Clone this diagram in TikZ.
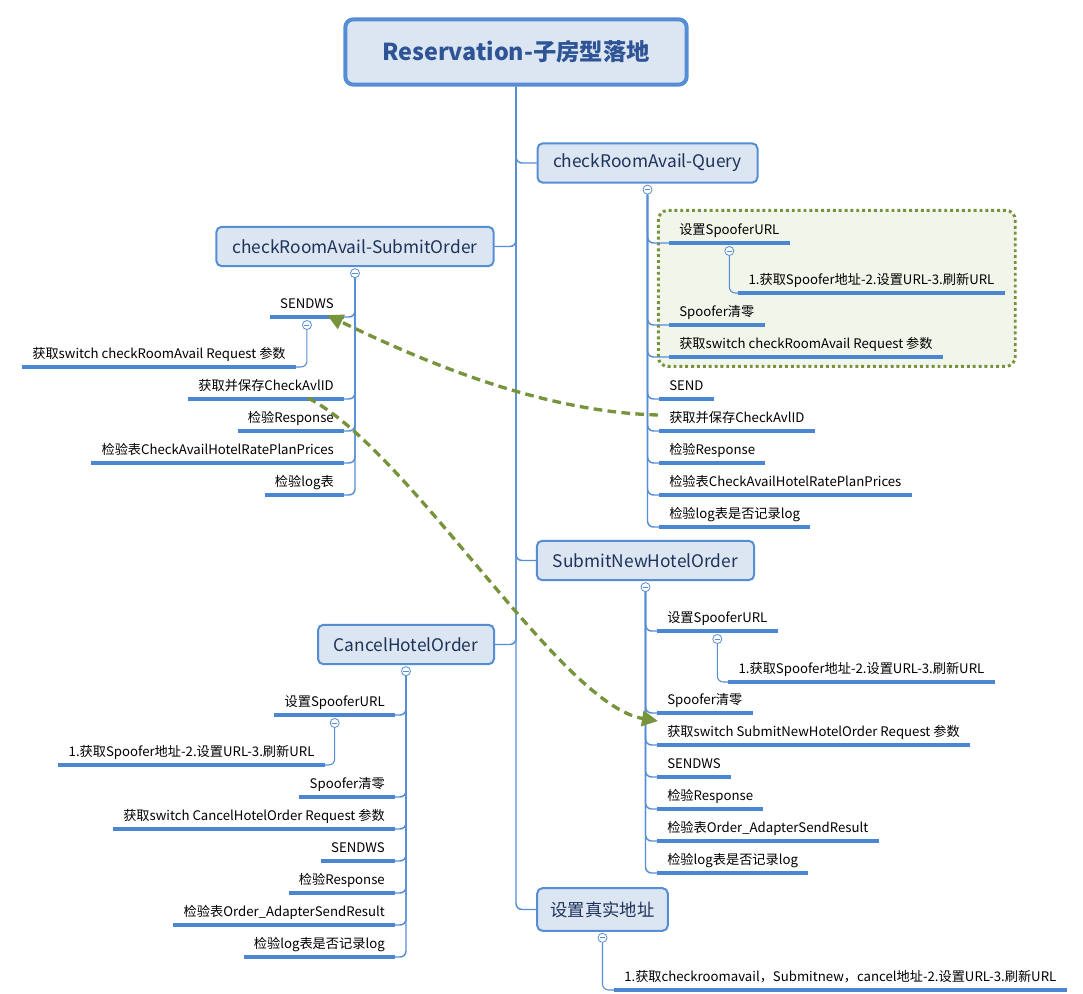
\documentclass[tikz,border=0pt]{standalone}
\usepackage{fontspec}
\setmainfont{Noto Sans CJK SC}
\usetikzlibrary{arrows.meta,calc,fit,backgrounds}
\definecolor{lblue}{RGB}{85,142,213}
\definecolor{ulblue}{RGB}{74,134,210}
\definecolor{boxfill}{RGB}{220,230,242}
\definecolor{boxtext}{RGB}{30,50,90}
\definecolor{titletext}{RGB}{47,84,150}
\definecolor{olive}{RGB}{119,147,60}
\definecolor{olivefill}{RGB}{242,245,234}
\begin{document}
\begin{tikzpicture}[x=0.75pt,y=-0.75pt,
  rootbox/.style={draw=lblue, line width=3pt, fill=boxfill, rounded corners=6pt, minimum width=256pt, minimum height=49pt, font=\fontsize{17.5}{20}\selectfont\bfseries, text=titletext},
  mainbox/.style={draw=lblue, line width=1.5pt, fill=boxfill, rounded corners=4pt, minimum height=29.5pt, inner xsep=8pt, font=\fontsize{13}{15}\selectfont, text=boxtext},
  uline/.style={draw=ulblue, line width=2.4pt},
  leaf/.style={inner xsep=7.5pt, inner ysep=4pt, text height=7pt, text depth=2pt, font=\fontsize{9.9}{11}\selectfont, text=black},
  conn/.style={draw=lblue, line width=1.1pt, rounded corners=4.5pt},
  subconn/.style={draw=lblue, line width=0.8pt, rounded corners=4.5pt},
  toggle/.style={circle, draw=lblue, line width=0.6pt, fill=white, minimum size=6.8pt, inner sep=0pt,
     path picture={\draw[lblue, line width=0.6pt] ([xshift=-1.9pt]path picture bounding box.center) -- ([xshift=1.9pt]path picture bounding box.center);}},
  rel/.style={draw=olive, line width=2.5pt, dash pattern=on 6.5pt off 4pt, -{Triangle[length=12pt,width=11.5pt]}}
]
\begin{scope}[on background layer]
\fill[white] (0,0) rectangle (1083,994);
\end{scope}
\useasboundingbox (0,0) rectangle (1083,994);

% root and branch boxes
\node[rootbox] (root) at (516,52) {Reservation-子房型落地};
\node[mainbox, minimum width=165pt] (bq) at (647.5,163) {checkRoomAvail-Query};
\node[mainbox, minimum width=208pt] (bs) at (355,246.5) {checkRoomAvail-SubmitOrder};
\node[mainbox, minimum width=163pt] (bn) at (645.5,560.5) {SubmitNewHotelOrder};
\node[mainbox, minimum width=132pt] (bc) at (406,644.5) {CancelHotelOrder};
\node[mainbox, minimum width=98pt, minimum height=32pt] (br) at (602.5,909.5) {设置真实地址};

\draw[conn] (root.south) |- (bq.west);
\draw[conn] (root.south) |- (bs.east);
\draw[conn] (root.south) |- (bn.west);
\draw[conn] (root.south) |- (bc.east);
\draw[conn] (root.south) |- (br.west);

\node[toggle] (tq) at ($(bq.south)+(0,6)$) {};
\node[toggle] (ts) at ($(bs.south)+(0,6)$) {};
\node[toggle] (tn) at ($(bn.south)+(0,6)$) {};
\node[toggle] (tc) at ($(bc.south)+(0,6)$) {};
\node[toggle] (tr) at ($(br.south)+(0,6)$) {};

% checkRoomAvail-Query
\node[leaf, anchor=south west] (q1) at (669,243) {设置SpooferURL};
\node[toggle] (tq1) at ($(q1.south)+(0,8)$) {};
\node[leaf, anchor=south west] (q1a) at ($(tq1)+(9,42)$) {1.获取Spoofer地址-2.设置URL-3.刷新URL};
\node[leaf, anchor=south west] (q2) at (669,325) {Spoofer清零};
\node[leaf, anchor=south west] (q3) at (669,357) {获取switch checkRoomAvail Request 参数};
\node[leaf, anchor=south west] (q4) at (659,399) {SEND};
\node[leaf, anchor=south west] (q5) at (659,431) {获取并保存CheckAvlID};
\node[leaf, anchor=south west] (q6) at (659,463) {检验Response};
\node[leaf, anchor=south west] (q7) at (659,495) {检验表CheckAvailHotelRatePlanPrices};
\node[leaf, anchor=south west] (q8) at (659,527) {检验log表是否记录log};
\begin{scope}[on background layer]
\node[draw=olive, line width=2.2pt, dash pattern=on 2.2pt off 2.2pt, fill=olivefill, rounded corners=7pt,
  fit=(q1)(q1a)(q3), inner xsep=8pt, inner ysep=7pt] (grp) {};
\end{scope}
\foreach \n in {q1,q2,q3,q4,q5,q6,q7,q8} \draw[conn] (tq.south) |- (\n.south west);
\draw[subconn] (tq1.south) |- (q1a.south west);

% checkRoomAvail-SubmitOrder
\node[leaf, anchor=south east] (s1) at (344,317) {SENDWS};
\node[toggle] (ts1) at ($(s1.south)+(0,8)$) {};
\node[leaf, anchor=south east] (s1a) at ($(ts1)+(-11,42)$) {获取switch checkRoomAvail Request 参数};
\node[leaf, anchor=south east] (s2) at (344,399) {获取并保存CheckAvlID};
\node[leaf, anchor=south east] (s3) at (344,431) {检验Response};
\node[leaf, anchor=south east] (s4) at (344,463) {检验表CheckAvailHotelRatePlanPrices};
\node[leaf, anchor=south east] (s5) at (344,495) {检验log表};
\foreach \n in {s1,s2,s3,s4,s5} \draw[conn] (ts.south) |- (\n.south east);
\draw[subconn] (ts1.south) |- (s1a.south east);

% SubmitNewHotelOrder
\node[leaf, anchor=south west] (n1) at (657,631) {设置SpooferURL};
\node[toggle] (tn1) at ($(n1.south)+(0,8)$) {};
\node[leaf, anchor=south west] (n1a) at ($(tn1)+(11,43)$) {1.获取Spoofer地址-2.设置URL-3.刷新URL};
\node[leaf, anchor=south west] (n2) at (657,713) {Spoofer清零};
\node[leaf, anchor=south west] (n3) at (657,745) {获取switch SubmitNewHotelOrder Request 参数};
\node[leaf, anchor=south west] (n4) at (657,777) {SENDWS};
\node[leaf, anchor=south west] (n5) at (657,809) {检验Response};
\node[leaf, anchor=south west] (n6) at (657,841) {检验表Order\_AdapterSendResult};
\node[leaf, anchor=south west] (n7) at (657,873) {检验log表是否记录log};
\foreach \n in {n1,n2,n3,n4,n5,n6,n7} \draw[conn] (tn.south) |- (\n.south west);
\draw[subconn] (tn1.south) |- (n1a.south west);

% CancelHotelOrder
\node[leaf, anchor=south east] (c1) at (395,715) {设置SpooferURL};
\node[toggle] (tc1) at ($(c1.south)+(0,8)$) {};
\node[leaf, anchor=south east] (c1a) at ($(tc1)+(-10,42)$) {1.获取Spoofer地址-2.设置URL-3.刷新URL};
\node[leaf, anchor=south east] (c2) at (395,797) {Spoofer清零};
\node[leaf, anchor=south east] (c3) at (395,829) {获取switch CancelHotelOrder Request 参数};
\node[leaf, anchor=south east] (c4) at (395,861) {SENDWS};
\node[leaf, anchor=south east] (c5) at (395,893) {检验Response};
\node[leaf, anchor=south east] (c6) at (395,925) {检验表Order\_AdapterSendResult};
\node[leaf, anchor=south east] (c7) at (395,957) {检验log表是否记录log};
\foreach \n in {c1,c2,c3,c4,c5,c6,c7} \draw[conn] (tc.south) |- (\n.south east);
\draw[subconn] (tc1.south) |- (c1a.south east);

% 设置真实地址
\node[leaf, anchor=south west] (r1) at (614,990) {1.获取checkroomavail，Submitnew，cancel地址-2.设置URL-3.刷新URL};
\draw[subconn] (tr.south) |- (r1.south west);

% underlines of all leaf topics
\foreach \n in {q1,q1a,q2,q3,q4,q5,q6,q7,q8,s1,s1a,s2,s3,s4,s5,n1,n1a,n2,n3,n4,n5,n6,n7,c1,c1a,c2,c3,c4,c5,c6,c7,r1}
  \draw[uline] (\n.south west) -- (\n.south east);

% relationship arrows
\coordinate (a1s) at ($(q5.south west)+(-1,-16)$);
\coordinate (a1e) at ($(s1.south east)+(-17,-2)$);
\coordinate (a2s) at ($(s2.south east)+(-36,-1)$);
\coordinate (a2e) at ($(n3.south west)+(1,-24)$);
\draw[rel] (a1s) .. controls +(-118,-3) and +(93,45) .. (a1e);
\draw[rel] (a2s) .. controls +(102,52) and +(-98,-16) .. (a2e);
\end{tikzpicture}
\end{document}
